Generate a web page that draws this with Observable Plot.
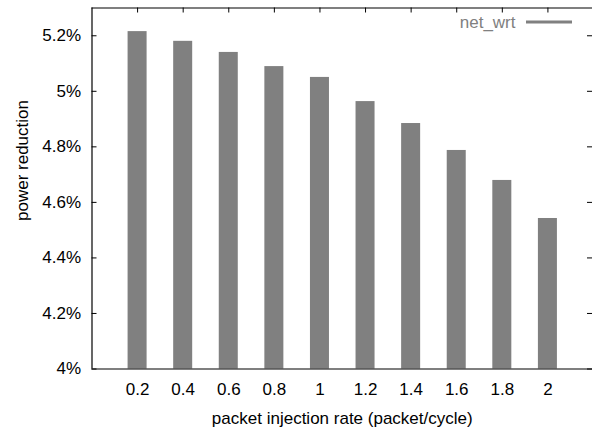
<!DOCTYPE html>
<html>
<head>
<meta charset="utf-8">
<script src="https://cdn.jsdelivr.net/npm/d3@7"></script>
<script src="https://cdn.jsdelivr.net/npm/@observablehq/plot@0.6"></script>
<style>
  html, body { margin: 0; padding: 0; background: #fff; overflow: hidden; }
  svg { display: block; }
</style>
</head>
<body>
<div id="chart"></div>
<script>
const rates = [0.2, 0.4, 0.6, 0.8, 1.0, 1.2, 1.4, 1.6, 1.8, 2.0];
const reduction = [5.215, 5.18, 5.14, 5.089, 5.05, 4.963, 4.884, 4.787, 4.679, 4.542];
const yTicks = [4, 4.2, 4.4, 4.6, 4.8, 5, 5.2];
const xTicks = rates;
const seriesName = "net_wrt";
const xTitle = "packet injection rate (packet/cycle)";
const yTitle = "power reduction";

const data = rates.map((r, i) => ({rate: r, value: reduction[i]}));
const halfW = 0.0417;
const font = "Liberation Sans, Arial, Helvetica, sans-serif";
const fs = 17;

const W = 592, H = 427;
const mL = 91.5, mT = 7.5, mB = 58.5, mR = 0;
const frameW = W - mL - mR, frameH = H - mT - mB;
const tickLen = 5;

const chart = Plot.plot({
  width: W,
  height: H,
  marginLeft: mL,
  marginTop: mT,
  marginBottom: mB,
  marginRight: mR,
  style: {fontFamily: font, fontSize: fs + "px", color: "#000", background: "#fff"},
  x: {domain: [0, 2.2], range: [mL, 593], axis: null},
  y: {domain: [4, 5.3], range: [H - mB, mT], axis: null},
  marks: [
    // inward ticks
    Plot.ruleY(yTicks, {insetRight: frameW - tickLen, stroke: "#000"}),
    Plot.ruleY(yTicks, {insetLeft: frameW - tickLen, stroke: "#000"}),
    Plot.ruleX(xTicks, {insetBottom: frameH - tickLen, stroke: "#000"}),
    // tick labels
    Plot.axisY(yTicks, {anchor: "left", tickSize: 0, tickPadding: 11, tickFormat: d => `${+d.toFixed(1)}%`, label: null, fontSize: fs, fill: "#000"}),
    Plot.axisX(xTicks, {anchor: "bottom", tickSize: 0, tickPadding: 14, tickFormat: d => String(+d.toFixed(1)), label: null, fontSize: fs, fill: "#000"}),
    Plot.rectY(data, {x1: d => d.rate - halfW, x2: d => d.rate + halfW, y1: 4, y2: "value", fill: "#808080"}),
    // frame
    Plot.ruleX([0], {stroke: "#000", strokeWidth: 1.2}),
    Plot.ruleY([4, 5.3], {stroke: "#000", strokeWidth: 1.2}),
    // titles
    Plot.text([xTitle], {frameAnchor: "bottom", dy: 50, lineAnchor: "middle", textAnchor: "middle", fontSize: fs, fill: "#000"}),
    Plot.text([yTitle], {frameAnchor: "left", dx: -69.5, dy: -28, rotate: -90, textAnchor: "middle", lineAnchor: "middle", fontSize: fs, fill: "#000"}),
    // legend label
    Plot.text([seriesName], {frameAnchor: "top-right", dx: -77, dy: 14.5, textAnchor: "end", lineAnchor: "middle", fontSize: fs, fill: "#808080"})
  ]
});

const svg = d3.select(chart);
svg.append("line")
  .attr("x1", 526).attr("x2", 572)
  .attr("y1", 22).attr("y2", 22)
  .attr("stroke", "#808080").attr("stroke-width", 3);

document.getElementById("chart").appendChild(chart);
</script>
</body>
</html>
